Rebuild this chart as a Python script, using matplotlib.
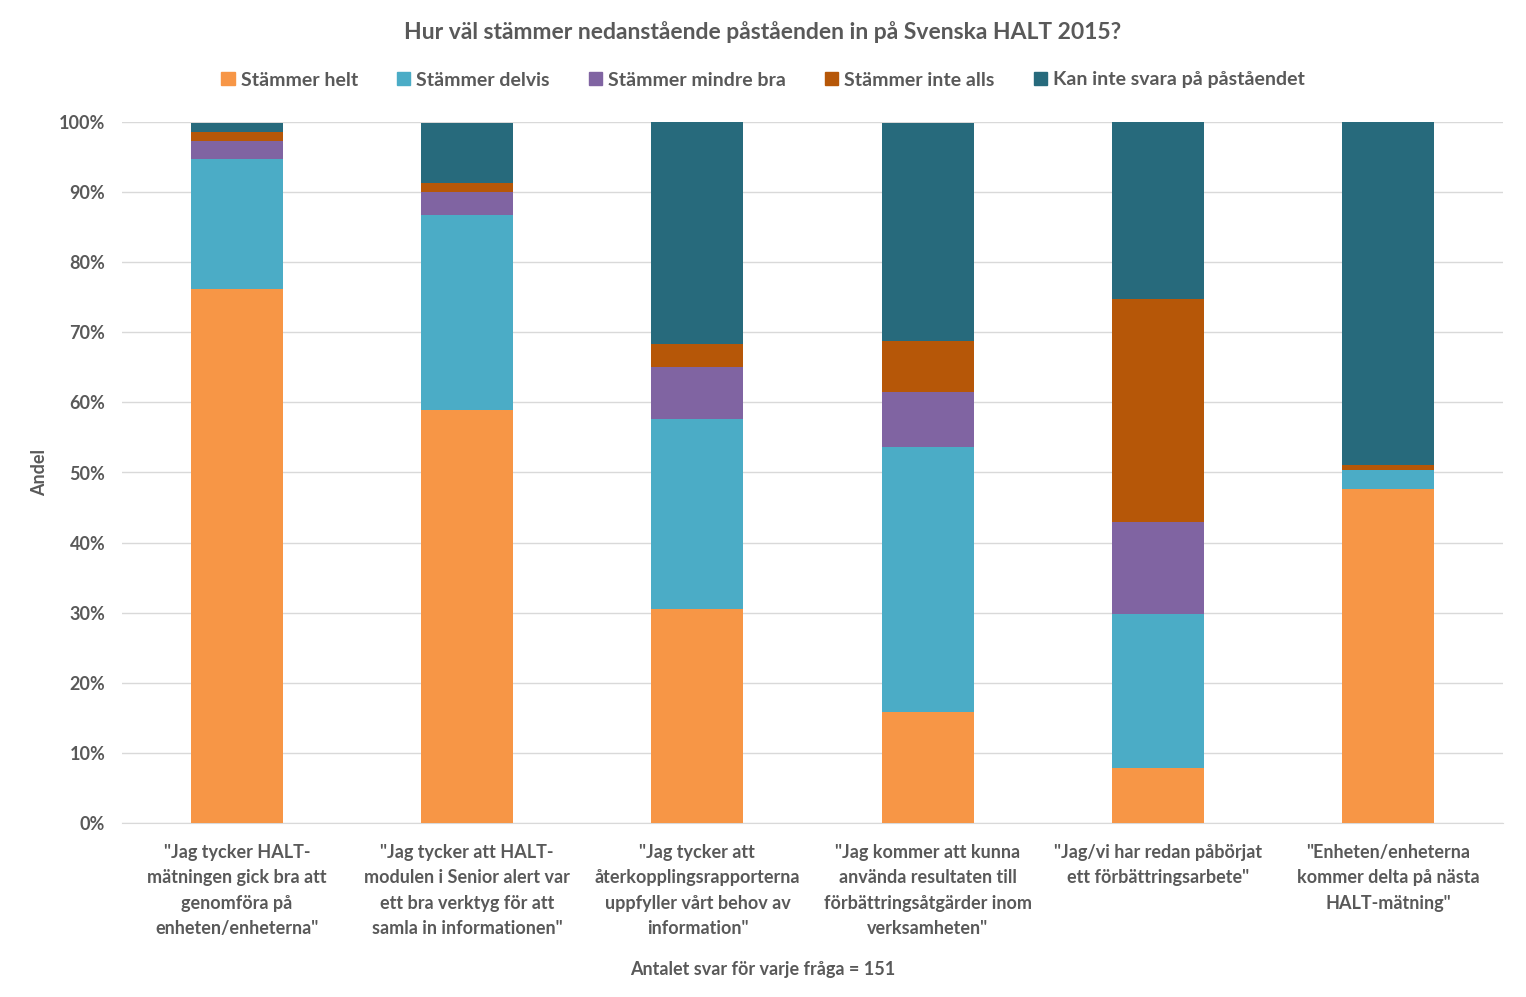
import numpy as np
import matplotlib.pyplot as plt
from matplotlib.patches import Patch

plt.rcParams['font.family'] = ['Lato', 'DejaVu Sans']
plt.rcParams['font.weight'] = 'bold'

# Andel svar (%) per fråga, 151 svar per fråga
fragor = ['"Jag tycker HALT-\nmätningen gick bra att\ngenomföra på\nenheten/enheterna"',
          '"Jag tycker att HALT-\nmodulen i Senior alert var\nett bra verktyg för att\nsamla in informationen"',
          '"Jag tycker att\nåterkopplingsrapporterna\nuppfyller vårt behov av\ninformation"',
          '"Jag kommer att kunna\nanvända resultaten till\nförbättringsåtgärder inom\nverksamheten"',
          '"Jag/vi har redan påbörjat\nett förbättringsarbete"',
          '"Enheten/enheterna\nkommer delta på nästa\nHALT-mätning"']

helt     = np.array([76.2, 58.9, 30.5, 15.9,  7.9, 47.7])
delvis   = np.array([18.5, 27.8, 27.2, 37.7, 21.9,  2.6])
mindre   = np.array([ 2.6,  3.3,  7.3,  7.9, 13.2,  0.0])
inte     = np.array([ 1.3,  1.3,  3.3,  7.3, 31.8,  0.7])
kan_inte = np.array([ 1.3,  8.6, 31.8, 31.1, 25.2, 49.0])

serier = [('Stämmer helt', helt, '#F79646'),
          ('Stämmer delvis', delvis, '#4BACC6'),
          ('Stämmer mindre bra', mindre, '#8064A2'),
          ('Stämmer inte alls', inte, '#B65708'),
          ('Kan inte svara på påståendet', kan_inte, '#276A7C')]

txt = '#595959'
fig = plt.figure(figsize=(15.26, 9.97), dpi=100)
ax = fig.add_axes([122/1526, 1-823/997, 1381/1526, 701/997])

x = np.arange(len(fragor))
bottom = np.zeros(len(fragor))
for namn, v, c in serier:
    ax.bar(x, v, 0.4, bottom=bottom, color=c, label=namn, zorder=3)
    bottom += v

ax.set_xlim(-0.5, 5.5)
ax.set_ylim(0, 100)
ax.set_yticks(np.arange(0, 101, 10))
ax.set_yticklabels([f'{t}%' for t in range(0, 101, 10)])
ax.yaxis.grid(True, color='#D9D9D9', lw=1, zorder=0)
for s in ['top', 'right', 'left']:
    ax.spines[s].set_visible(False)
ax.spines['bottom'].set_color('#D9D9D9')
ax.tick_params(axis='both', length=0, colors=txt, labelsize=13)
ax.tick_params(axis='y', pad=12)
ax.set_xticks(x)
ax.set_xticklabels(fragor, fontsize=13, linespacing=1.6, color=txt)
ax.tick_params(axis='x', pad=15)

fig.text(40/1526, 1-472/997, 'Andel', rotation=90, ha='center', va='center',
         fontsize=13, color=txt, fontweight='bold')
fig.text(0.5, 1-969/997, 'Antalet svar för varje fråga = 151', ha='center', va='center',
         fontsize=13, color=txt, fontweight='bold')

fig.text(0.5, 1-32/997, 'Hur väl stämmer nedanstående påståenden in på Svenska HALT 2015?',
         ha='center', va='center', fontsize=16.5, color=txt, fontweight='bold')

handles = [Patch(color=c, label=n) for n, _, c in serier]
fig.legend(handles=handles, loc='center', bbox_to_anchor=(0.5, 1-80/997), ncol=5,
           frameon=False, fontsize=14, handlelength=0.7, handleheight=0.7,
           handletextpad=0.3, columnspacing=2.0, labelcolor=txt)

fig.savefig('out.png', dpi=100)
